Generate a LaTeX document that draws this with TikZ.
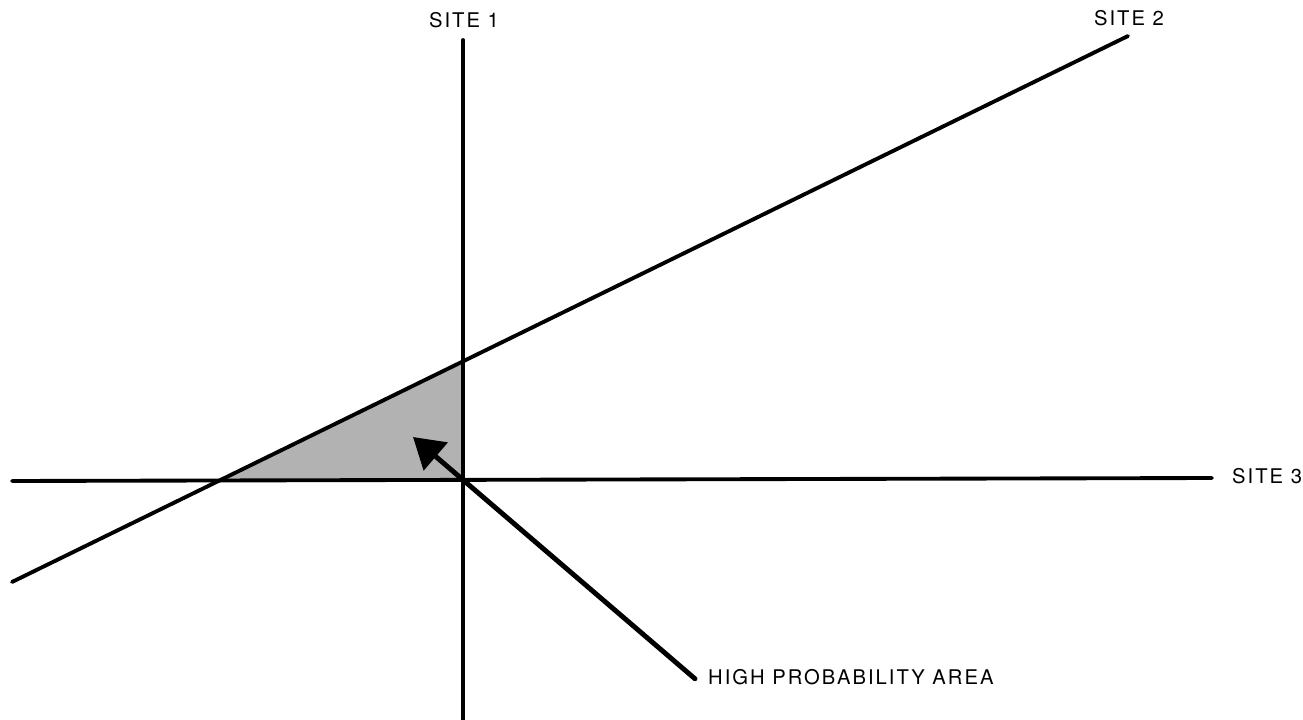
\documentclass[tikz,border=0pt]{standalone}
\usepackage{fontspec}
\setmainfont{TeX Gyre Heros}[LetterSpace=10]
\usetikzlibrary{arrows.meta}

\begin{document}
\begin{tikzpicture}[
  x=0.02cm, y=-0.02cm,
  >=Stealth,
  every node/.style={font=\fontsize{11.5}{13}\selectfont},
  siteline/.style={line width=2.2pt, line cap=round}
]
\useasboundingbox (0,0) rectangle (1303,720);

% ============================================================
% Labels
% ============================================================
\node (site1) at (464,20) {SITE 1};
\node (site2) at (1129,18) {SITE 2};
\node[anchor=west] (site3) at (1226,476) {SITE 3};
\node[anchor=west] (hpa) at (702,677) {HIGH PROBABILITY AREA};

% ============================================================
% Line end points
% ============================================================
\coordinate (v1) at (463,40);
\coordinate (v2) at (463,722);
\coordinate (h1) at (12,481);
\coordinate (h2) at (1212,478);
\coordinate (d1) at (12,582);
\coordinate (d2) at (1128,36);

% corners of the shaded area
\coordinate (ta) at (220,481);
\coordinate (tb) at (463,481);
\coordinate (tc) at (463,362);

% ============================================================
% Shaded area
% ============================================================
\fill[black!30] (ta) -- (tb) -- (tc) -- cycle;

% ============================================================
% Site lines
% ============================================================
\draw[siteline] (v1) -- (v2);
\draw[siteline] (h1) -- (h2);
\draw[siteline] (d1) -- (d2);

% ============================================================
% Arrow to the high probability area
% ============================================================
\coordinate (tip) at (413,437);
\draw[line width=2.8pt, line cap=round,
  -{Triangle[length=0.6cm, width=0.72cm]}]
  ([xshift=-4pt,yshift=-1pt]hpa.west) -- (tip);

\end{tikzpicture}
\end{document}
